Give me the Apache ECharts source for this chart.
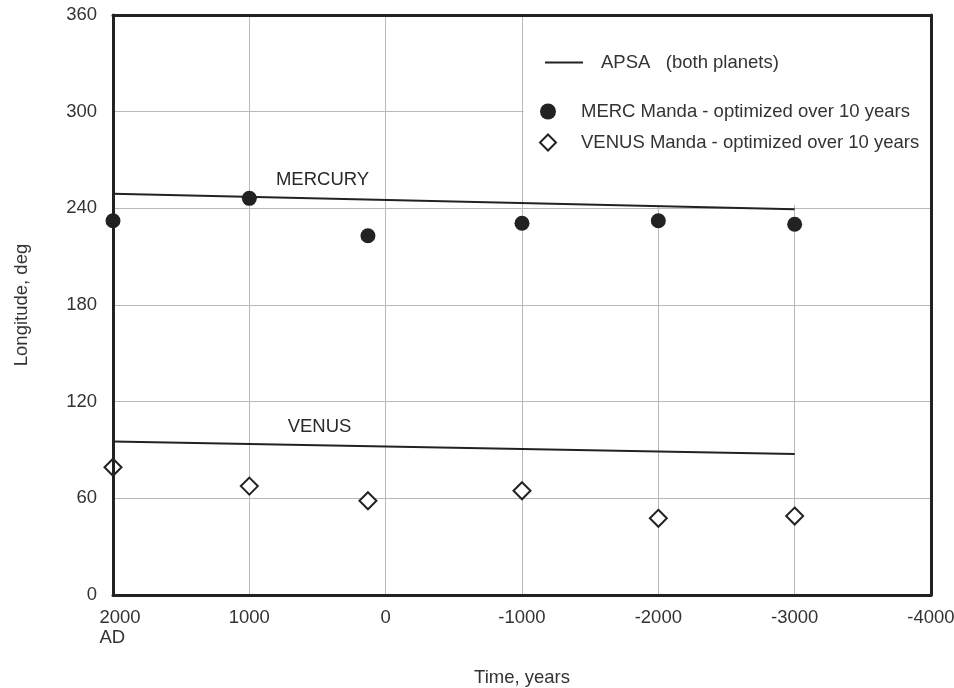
<!DOCTYPE html>
<html>
<head>
<meta charset="utf-8">
<script src="https://cdn.jsdelivr.net/npm/echarts@6/dist/echarts.min.js"></script>
<style>html,body{margin:0;padding:0;background:#fff;}#c{width:954px;height:688px;}</style>
</head>
<body>
<div id="c"></div>
<script>
// ---- data ----
const xTicks = [2000, 1000, 0, -1000, -2000, -3000, -4000];
const yTicks = [0, 60, 120, 180, 240, 300, 360];
const mandaYears = [2000, 1000, 130, -1000, -2000, -3000];
const mercManda = [232.3, 246.2, 223.0, 230.7, 232.3, 230.1];
const venusManda = [79.3, 67.6, 58.5, 64.7, 47.6, 49.0];
const apsaYears = [2000, -3000];
const mercApsa = [249.0, 239.4];
const venusApsa = [95.2, 87.5];
const planetLabels = ['MERCURY', 'VENUS'];
const planetLabelPos = [[463, 257.6], [485, 104.3]];
const nameApsa = 'APSA   (both planets)';
const nameMerc = 'MERC Manda - optimized over 10 years';
const nameVenus = 'VENUS Manda - optimized over 10 years';

const FONT = '"Liberation Sans", Arial, Helvetica, sans-serif';
const FS = 18.5;
const TXT = '#333333';
const DARK = '#222222';

const zip = (xs, ys) => xs.map((x, i) => [x, ys[i]]);

const chart = echarts.init(document.getElementById('c'), null, {renderer: 'canvas'});
const option = {
  animation: false,
  backgroundColor: '#ffffff',
  textStyle: {fontFamily: FONT},
  grid: {left: 113, right: 23, top: 15, bottom: 93, containLabel: false, outerBoundsMode: 'none'},
  legend: [
    {
      data: [{name: nameApsa, icon: 'rect'}],
      left: 540, top: 48,
      itemWidth: 38, itemHeight: 2,
      itemStyle: {color: DARK},
      textStyle: {fontFamily: FONT, fontSize: FS, color: TXT, padding: [0, 0, 0, 13]},
      selectedMode: false
    },
    {
      data: [nameMerc, nameVenus],
      orient: 'vertical',
      left: 534, top: 97,
      itemWidth: 16, itemHeight: 16, itemGap: 12,
      textStyle: {fontFamily: FONT, fontSize: FS, color: TXT, padding: [0, 0, 0, 20]},
      selectedMode: false
    }
  ],
  xAxis: [
    {
      type: 'value', min: -4000, max: 2000, interval: 1000, inverse: true,
      name: 'Time, years', nameLocation: 'middle', nameGap: 73,
      nameTextStyle: {fontFamily: FONT, fontSize: FS, color: TXT},
      axisLine: {show: false}, axisTick: {show: false},
      axisLabel: {
        margin: 13, fontFamily: FONT, fontSize: FS, color: TXT,
        formatter: v => v === 2000 ? '{l|2000}\n{l|AD}' : String(v),
        rich: {l: {align: 'left', fontFamily: FONT, fontSize: FS, color: TXT, lineHeight: 20, padding: [0, 0, 0, 14]}}
      },
      splitLine: {show: true, lineStyle: {color: '#b8b8b8', width: 1}}
    },
    {
      type: 'value', min: -4000, max: 2000, interval: 1000, inverse: true, position: 'top', z: 10,
      axisLine: {show: true, onZero: false, lineStyle: {color: DARK, width: 3}},
      axisTick: {show: false}, axisLabel: {show: false}, splitLine: {show: false}
    },
    {
      type: 'value', min: -4000, max: 2000, interval: 1000, inverse: true, position: 'bottom', z: 10,
      axisLine: {show: true, onZero: false, lineStyle: {color: DARK, width: 3}},
      axisTick: {show: false}, axisLabel: {show: false}, splitLine: {show: false}
    }
  ],
  yAxis: [
    {
      type: 'value', min: 0, max: 360, interval: 60,
      name: 'Longitude, deg', nameLocation: 'middle', nameGap: 82, nameRotate: 90,
      nameTextStyle: {fontFamily: FONT, fontSize: FS, color: TXT},
      axisLine: {show: false}, axisTick: {show: false},
      axisLabel: {margin: 16, fontFamily: FONT, fontSize: FS, color: TXT},
      splitLine: {show: true, lineStyle: {color: '#b8b8b8', width: 1}}
    },
    {
      type: 'value', min: 0, max: 360, interval: 60, position: 'left', z: 10,
      axisLine: {show: true, onZero: false, lineStyle: {color: DARK, width: 3}},
      axisTick: {show: false}, axisLabel: {show: false}, splitLine: {show: false}
    },
    {
      type: 'value', min: 0, max: 360, interval: 60, position: 'right', z: 10,
      axisLine: {show: true, onZero: false, lineStyle: {color: DARK, width: 3}},
      axisTick: {show: false}, axisLabel: {show: false}, splitLine: {show: false}
    }
  ],
  series: [
    {
      name: nameApsa, type: 'line', data: zip(apsaYears, mercApsa),
      symbol: 'none', lineStyle: {color: DARK, width: 2}, itemStyle: {color: DARK},
      markArea: {
        silent: true,
        itemStyle: {color: '#ffffff', opacity: 1, borderWidth: 0},
        data: [[{xAxis: -1012, yAxis: 242}, {xAxis: -4000, yAxis: 360}]]
      }
    },
    {
      name: nameApsa, type: 'line', data: zip(apsaYears, venusApsa),
      symbol: 'none', lineStyle: {color: DARK, width: 2}, itemStyle: {color: DARK}
    },
    {
      name: nameMerc, type: 'scatter', data: zip(mandaYears, mercManda),
      symbol: 'circle', symbolSize: 15, itemStyle: {color: DARK, opacity: 1}, z: 3
    },
    {
      name: nameVenus, type: 'scatter', data: zip(mandaYears, venusManda),
      symbol: 'diamond', symbolSize: 17,
      itemStyle: {color: '#ffffff', borderColor: DARK, borderWidth: 2, opacity: 1}, z: 3
    },
    {
      name: 'labels', type: 'scatter', symbolSize: 1, silent: true,
      itemStyle: {color: 'rgba(0,0,0,0)'},
      data: planetLabels.map((n, i) => ({name: n, value: planetLabelPos[i]})),
      label: {show: true, position: 'inside', formatter: p => p.name,
        fontFamily: FONT, fontSize: FS, color: '#2a2a2a', opacity: 1}
    }
  ]
};
chart.setOption(option);
</script>
</body>
</html>
